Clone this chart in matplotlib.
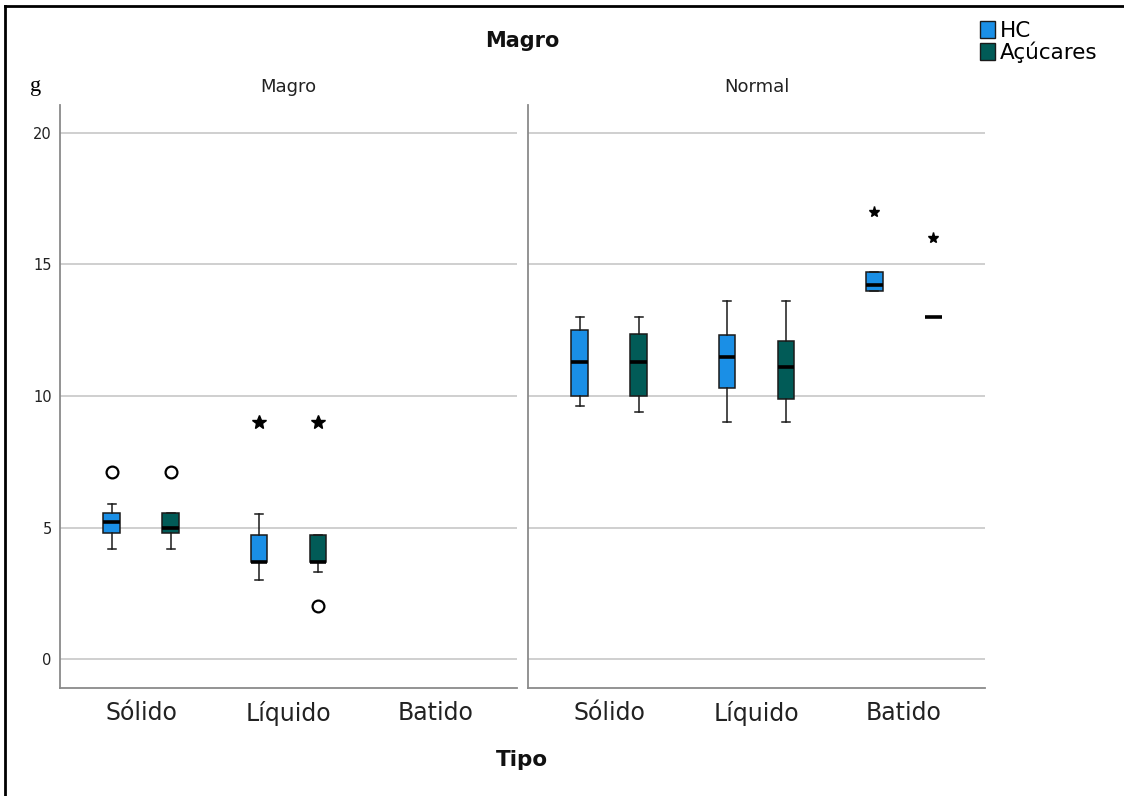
import matplotlib
matplotlib.use("Agg")
import matplotlib.pyplot as plt
from matplotlib.lines import Line2D
from matplotlib.patches import Patch

# category and panel labels
tipos = ["Sólido", "Líquido", "Batido"]
paineis = ["Magro", "Normal"]
series = ["HC", "Açúcares"]
cores = ["#1A8FE6", "#015B57"]

# five-number summaries per panel, series and tipo (None = no data)
# order: whisker low, Q1, median, Q3, whisker high
hc_magro = [
    [4.2, 4.8, 5.2, 5.55, 5.9],
    [3.0, 3.7, 3.7, 4.7, 5.5],
    None,
]
acucares_magro = [
    [4.2, 4.8, 5.0, 5.55, 5.55],
    [3.3, 3.7, 3.7, 4.7, 4.7],
    None,
]
hc_normal = [
    [9.6, 10.0, 11.3, 12.5, 13.0],
    [9.0, 10.3, 11.5, 12.3, 13.6],
    [14.0, 14.0, 14.2, 14.7, 14.7],
]
acucares_normal = [
    [9.4, 10.0, 11.3, 12.35, 13.0],
    [9.0, 9.9, 11.1, 12.1, 13.6],
    [13.0, 13.0, 13.0, 13.0, 13.0],
]

# outliers: (tipo index, value)
circ_hc_magro = [(0, 7.1)]
circ_acucares_magro = [(0, 7.1), (1, 2.0)]
star_hc_magro = [(1, 9.0)]
star_acucares_magro = [(1, 9.0)]
star_hc_normal = [(2, 17.0)]
star_acucares_normal = [(2, 16.0)]

dados = {
    "Magro": [hc_magro, acucares_magro],
    "Normal": [hc_normal, acucares_normal],
}
circulos = {
    "Magro": [circ_hc_magro, circ_acucares_magro],
    "Normal": [[], []],
}
estrelas = {
    "Magro": [star_hc_magro, star_acucares_magro],
    "Normal": [star_hc_normal, star_acucares_normal],
}
star_size = {"Magro": 10, "Normal": 8}

W, H = 1124, 796
fig = plt.figure(figsize=(W / 100, H / 100), dpi=100)

offsets = [-0.2, 0.2]
largura = 0.11
lefts = [60, 528]

for k, painel in enumerate(paineis):
    ax = fig.add_axes([lefts[k] / W, (H - 688) / H, 457 / W, 583 / H])
    ax.set_xlim(-0.55, 2.55)
    ax.set_ylim(-1.1, 21.06)
    ax.set_yticks([0, 5, 10, 15, 20])
    ax.yaxis.grid(True, color="#cccccc", linewidth=1.3)
    ax.set_axisbelow(True)
    for s in ["top", "right"]:
        ax.spines[s].set_visible(False)
    for s in ["left", "bottom"]:
        ax.spines[s].set_color("#8a8a8a")
        ax.spines[s].set_linewidth(1.3)
    ax.set_xticks(range(len(tipos)))
    ax.set_xticklabels(tipos, fontsize=17, color="#222222")
    ax.tick_params(axis="x", length=0, pad=9)
    ax.tick_params(axis="y", length=0, pad=6, labelsize=10.5, labelcolor="#222222")
    if k == 1:
        ax.tick_params(axis="y", labelleft=False)
    ax.set_title(painel, fontsize=13, pad=9, color="#222222")

    for j, (resumos, cor) in enumerate(zip(dados[painel], cores)):
        stats, pos = [], []
        for i, r in enumerate(resumos):
            if r is None:
                continue
            stats.append({"whislo": r[0], "q1": r[1], "med": r[2],
                          "q3": r[3], "whishi": r[4], "fliers": []})
            pos.append(i + offsets[j])
        ax.bxp(stats, positions=pos, widths=largura, patch_artist=True,
               showfliers=False, manage_ticks=False,
               boxprops=dict(facecolor=cor, edgecolor="#1a1a1a", linewidth=1.1),
               medianprops=dict(color="black", linewidth=2.6, solid_capstyle="butt"),
               whiskerprops=dict(color="#1a1a1a", linewidth=1.1),
               capprops=dict(color="#1a1a1a", linewidth=1.1),
               capwidths=0.055)
        for i, v in circulos[painel][j]:
            ax.plot(i + offsets[j], v, marker="o", markersize=8.5, mfc="white",
                    mec="black", mew=1.6, linestyle="none")
        for i, v in estrelas[painel][j]:
            ax.plot(i + offsets[j], v, marker="*", markersize=star_size[painel],
                    color="black", linestyle="none")

fig.text(522 / W, 1 - 41 / H, "Magro", fontsize=15, fontweight="bold",
         ha="center", va="center", color="#111111")
fig.text(522 / W, 1 - 760 / H, "Tipo", fontsize=15.5, fontweight="bold",
         ha="center", va="center", color="#111111")
fig.text(36 / W, 1 - 86 / H, "g", fontsize=16, family="Liberation Serif",
         ha="center", va="center")

handles = [Patch(facecolor=c, edgecolor="#1a1a1a", linewidth=1.0) for c in cores]
fig.legend(handles, series, loc="upper left", bbox_to_anchor=(980 / W, 1 - 21 / H),
           frameon=False, fontsize=15.5, handlelength=0.7, handleheight=0.85,
           handletextpad=0.2, labelspacing=0.0, borderaxespad=0, borderpad=0)

# frame lines along the top and left edges
fig.add_artist(Line2D([5 / W, 1], [1 - 6 / H, 1 - 6 / H], color="black", linewidth=2))
fig.add_artist(Line2D([5 / W, 5 / W], [0, 1 - 6 / H], color="black", linewidth=2))

fig.savefig("out.png", dpi=100)
